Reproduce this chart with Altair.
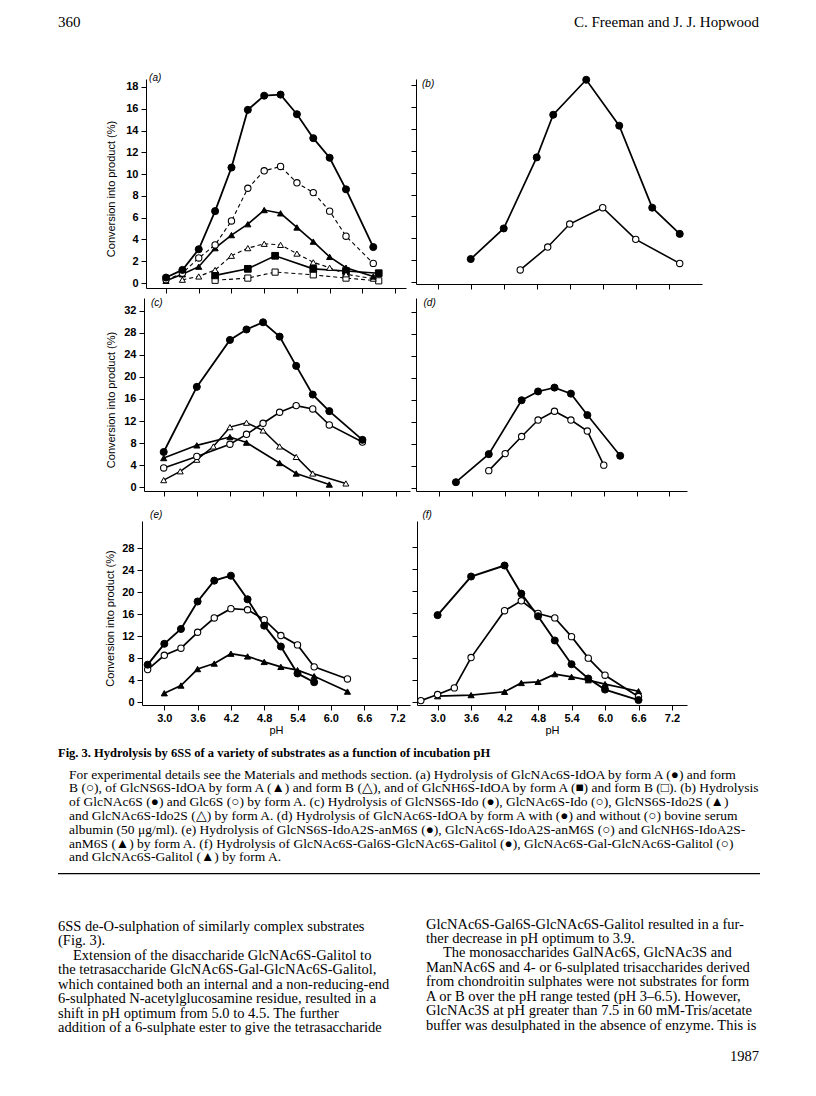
import altair as alt
import pandas as pd

SANS = "Liberation Sans"
SERIF = "Liberation Serif"
XT = [3.0, 3.6, 4.2, 4.8, 5.4, 6.0, 6.6, 7.2]
YTITLE = "Conversion into product (%)"

# ---------------- data ----------------
# (a) GlcNAc6S-IdOA / GlcNS6S-IdOA / GlcNH6S-IdOA, forms A and B
a_ph = [3.0, 3.3, 3.6, 3.9, 4.2, 4.5, 4.8, 5.1, 5.4, 5.7, 6.0, 6.3, 6.8]
a_glcnac_A = [0.5, 1.2, 3.1, 6.6, 10.6, 15.9, 17.2, 17.3, 15.5, 13.3, 11.5, 8.6, 3.3]
a_glcnac_B = [0.3, 0.9, 2.3, 3.5, 5.7, 8.7, 10.3, 10.7, 9.2, 8.3, 6.6, 4.3, 1.8]
a_glcns_A = [0.2, 0.8, 1.5, 3.2, 4.4, 5.4, 6.7, 6.4, 5.1, 3.8, 2.4, 1.4, 0.6]
a_glcns_B_ph = [3.3, 3.6, 3.9, 4.2, 4.5, 4.8, 5.1, 5.4, 5.7, 6.0, 6.3, 6.8]
a_glcns_B = [0.3, 0.6, 1.2, 2.5, 3.2, 3.6, 3.5, 2.7, 1.9, 1.4, 0.8, 0.4]
a_glcnh_ph = [3.9, 4.5, 5.0, 5.7, 6.3, 6.9]
a_glcnh_A = [0.7, 1.3, 2.5, 1.3, 1.1, 0.9]
a_glcnh_B = [0.25, 0.45, 1.0, 0.75, 0.45, 0.2]

# (b) GlcNAc6S and Glc6S
b_glcnac_ph = [3.6, 4.2, 4.8, 5.1, 5.7, 6.3, 6.9, 7.4]
b_glcnac = [2.1, 4.9, 11.4, 15.3, 18.5, 14.3, 6.8, 4.4]
b_glc_ph = [4.5, 5.0, 5.4, 6.0, 6.6, 7.4]
b_glc = [1.1, 3.2, 5.3, 6.8, 3.9, 1.7]

# (c) GlcNS6S-Ido, GlcNAc6S-Ido, GlcNS6S-Ido2S, GlcNAc6S-Ido2S
c_ph = [3.0, 3.6, 4.2, 4.5, 4.8, 5.1, 5.4, 5.7, 6.0, 6.6]
c_glcns_ido = [6.4, 18.2, 26.7, 28.6, 29.9, 27.3, 22.0, 16.8, 13.8, 8.6]
c_glcnac_ido = [3.5, 5.6, 7.8, 9.6, 11.6, 13.6, 14.8, 14.2, 11.3, 8.2]
c_glcns_ido2s_ph = [3.0, 3.6, 4.2, 4.5, 5.1, 5.4, 6.0]
c_glcns_ido2s = [5.3, 7.6, 9.1, 8.1, 4.4, 2.5, 0.5]
c_glcnac_ido2s_ph = [3.0, 3.3, 3.6, 3.9, 4.2, 4.5, 4.8, 5.1, 5.4, 5.7, 6.3]
c_glcnac_ido2s = [1.3, 2.9, 5.0, 7.4, 10.9, 11.7, 10.3, 7.4, 5.5, 2.5, 0.7]

# (d) GlcNAc6S-IdOA with / without bovine serum albumin
d_with_ph = [3.3, 3.9, 4.5, 4.8, 5.1, 5.4, 5.7, 6.3]
d_with = [1.0, 6.1, 15.9, 17.5, 18.2, 17.1, 13.2, 5.8]
d_without_ph = [3.9, 4.2, 4.5, 4.8, 5.1, 5.4, 5.7, 6.0]
d_without = [3.1, 6.2, 9.3, 12.3, 13.9, 12.3, 10.3, 4.1]

# (e) GlcNS6S-, GlcNAc6S-, GlcNH6S-IdoA2S-anM6S
e_ns_ph = [2.7, 3.0, 3.3, 3.6, 3.9, 4.2, 4.5, 4.8, 5.1, 5.4, 5.7]
e_ns = [6.8, 10.6, 13.3, 18.3, 22.1, 23.0, 18.7, 13.9, 10.1, 5.2, 3.6]
e_ac_ph = [2.7, 3.0, 3.3, 3.6, 3.9, 4.2, 4.5, 4.8, 5.1, 5.4, 5.7, 6.3]
e_ac = [5.9, 8.5, 9.8, 12.7, 15.3, 17.0, 16.8, 15.0, 12.1, 10.4, 6.4, 4.2]
e_nh_ph = [3.0, 3.3, 3.6, 3.9, 4.2, 4.5, 4.8, 5.1, 5.4, 5.7, 6.3]
e_nh = [1.6, 3.0, 6.0, 7.0, 8.8, 8.3, 7.3, 6.4, 5.8, 4.7, 1.9]

# (f) GlcNAc6S-Gal6S-GlcNAc6S-Galitol, GlcNAc6S-Gal-GlcNAc6S-Galitol, GlcNAc6S-Galitol
f_tetra6s_ph = [3.0, 3.6, 4.2, 4.5, 4.8, 5.1, 5.4, 5.7, 6.0, 6.6]
f_tetra6s = [15.7, 22.7, 24.7, 19.6, 15.5, 11.1, 6.8, 4.2, 2.2, 0.3]
f_tetra_ph = [2.7, 3.0, 3.3, 3.6, 4.2, 4.5, 4.8, 5.1, 5.4, 5.7, 6.0, 6.6]
f_tetra = [0.2, 1.3, 2.5, 8.0, 16.5, 18.3, 16.0, 15.2, 11.8, 7.9, 4.8, 0.9]
f_di_ph = [3.0, 3.6, 4.2, 4.5, 4.8, 5.1, 5.4, 5.7, 6.0, 6.6]
f_di = [1.0, 1.2, 1.8, 3.4, 3.6, 5.0, 4.5, 3.9, 3.2, 1.9]

# ---------------- text of the page ----------------
header_left = "360"
header_right = "C. Freeman and J. J. Hopwood"
cap_title = "Fig. 3. Hydrolysis by 6SS of a variety of substrates as a function of incubation pH"
cap_lines = [
    "For experimental details see the Materials and methods section. (a) Hydrolysis of GlcNAc6S-IdOA by form A (●) and form",
    "B (○), of GlcNS6S-IdOA by form A (▲) and form B (△), and of GlcNH6S-IdOA by form A (■) and form B (□). (b) Hydrolysis",
    "of GlcNAc6S (●) and Glc6S (○) by form A. (c) Hydrolysis of GlcNS6S-Ido (●), GlcNAc6S-Ido (○), GlcNS6S-Ido2S (▲)",
    "and GlcNAc6S-Ido2S (△) by form A. (d) Hydrolysis of GlcNAc6S-IdOA by form A with (●) and without (○) bovine serum",
    "albumin (50 μg/ml). (e) Hydrolysis of GlcNS6S-IdoA2S-anM6S (●), GlcNAc6S-IdoA2S-anM6S (○) and GlcNH6S-IdoA2S-",
    "anM6S (▲) by form A. (f) Hydrolysis of GlcNAc6S-Gal6S-GlcNAc6S-Galitol (●), GlcNAc6S-Gal-GlcNAc6S-Galitol (○)",
    "and GlcNAc6S-Galitol (▲) by form A.",
]
body_left = [
    "6SS de-O-sulphation of similarly complex substrates",
    "(Fig. 3).",
    "Extension of the disaccharide GlcNAc6S-Galitol to",
    "the tetrasaccharide GlcNAc6S-Gal-GlcNAc6S-Galitol,",
    "which contained both an internal and a non-reducing-end",
    "6-sulphated N-acetylglucosamine residue, resulted in a",
    "shift in pH optimum from 5.0 to 4.5. The further",
    "addition of a 6-sulphate ester to give the tetrasaccharide",
]
body_left_indent = [0, 0, 15, 0, 0, 0, 0, 0]
body_right = [
    "GlcNAc6S-Gal6S-GlcNAc6S-Galitol resulted in a fur-",
    "ther decrease in pH optimum to 3.9.",
    "The monosaccharides GalNAc6S, GlcNAc3S and",
    "ManNAc6S and 4- or 6-sulplated trisaccharides derived",
    "from chondroitin sulphates were not substrates for form",
    "A or B over the pH range tested (pH 3–6.5). However,",
    "GlcNAc3S at pH greater than 7.5 in 60 mM-Tris/acetate",
    "buffer was desulphated in the absence of enzyme. This is",
]
body_right_indent = [0, 0, 17, 0, 0, 0, 0, 0]
footer = "1987"

# ---------------- styles ----------------
STY = {
    "fc": dict(shape="circle", fill="black", size=50, sw=1.0),
    "oc": dict(shape="circle", fill="white", size=40, sw=1.1),
    "ft": dict(shape="triangle-up", fill="black", size=38, sw=1.0),
    "ot": dict(shape="triangle-up", fill="white", size=36, sw=1.0),
    "fs": dict(shape="square", fill="black", size=45, sw=1.0),
    "os": dict(shape="square", fill="white", size=38, sw=1.0),
}
DASH = [4, 3]


def panel(series, xd, yd, w, h, yt, left, xlabels, lab, titlex=0):
    xax = alt.Axis(values=XT, format=".1f", labels=xlabels, ticks=True, tickSize=5,
                   tickColor="black", tickWidth=1, domainColor="black", domainWidth=1,
                   grid=False, labelFont=SANS, labelFontSize=11, labelFontWeight="bold",
                   labelColor="black", labelPadding=2, labelFlush=False,
                   titleFont=SANS, titleFontSize=11, titleFontWeight="normal",
                   titleColor="black", titlePadding=1.5)
    ykw = dict(values=yt, labels=left, ticks=True, tickSize=5, tickColor="black",
               tickWidth=1, domainColor="black", domainWidth=1, grid=False,
               labelFont=SANS, labelFontSize=11, labelFontWeight="bold",
               labelColor="black", labelPadding=3)
    if left:
        ykw.update(titleFont=SANS, titleFontSize=11, titleFontWeight="normal",
                   titleColor="black", titleX=titlex, titleY=h / 2 + 5,
                   titleAngle=270, titleBaseline="middle", titleAlign="center")
    yax = alt.Axis(**ykw)
    X = alt.X("pH:Q", scale=alt.Scale(domain=xd, nice=False, zero=False), axis=xax,
              title="pH" if xlabels else None)
    Y = alt.Y("value:Q", scale=alt.Scale(domain=yd, nice=False, zero=False), axis=yax,
              title=YTITLE if left else None)
    lines, points = [], []
    for ph, vals, st, dashed, lw in series:
        df = pd.DataFrame({"pH": ph, "value": vals})
        lkw = dict(color="black", strokeWidth=lw)
        if dashed:
            lkw["strokeDash"] = DASH
        lines.append(alt.Chart(df).mark_line(**lkw).encode(x=X, y=Y))
        s = STY[st]
        points.append(alt.Chart(df).mark_point(shape=s["shape"], filled=True, fill=s["fill"],
                                                stroke="black", strokeWidth=s["sw"],
                                                size=s["size"], opacity=1).encode(x=X, y=Y))
    ldf = pd.DataFrame({"pH": [lab[1]], "value": [lab[2]], "t": [lab[0]]})
    label = alt.Chart(ldf).mark_text(align="left", baseline="middle", font=SANS,
                                     fontStyle="italic", fontSize=10, color="black").encode(
        x=X, y=Y, text="t:N")
    return alt.layer(*lines, *points, label).properties(width=w, height=h)


def spacer(w, h):
    return alt.Chart(pd.DataFrame({"v": []})).mark_point(opacity=0).properties(width=w, height=h)


pa = panel([
    (a_glcnh_ph, a_glcnh_B, "os", True, 1.1),
    (a_glcnh_ph, a_glcnh_A, "fs", False, 1.6),
    (a_glcns_B_ph, a_glcns_B, "ot", True, 1.1),
    (a_ph, a_glcns_A, "ft", False, 1.6),
    (a_ph, a_glcnac_B, "oc", True, 1.1),
    (a_ph, a_glcnac_A, "fc", False, 1.8),
], [2.633, 7.40], [-0.459, 18.733], 260, 209, list(range(0, 19, 2)), True, False,
    ("(a)", 2.69, 18.82), titlex=-35)

pb = panel([
    (b_glc_ph, b_glc, "oc", False, 1.6),
    (b_glcnac_ph, b_glcnac, "fc", False, 1.7),
], [2.605, 7.805], [-0.183, 18.57], 286, 205, list(range(0, 19, 2)), False, False,
    ("(b)", 2.714, 18.11))

pc = panel([
    (c_glcnac_ido2s_ph, c_glcnac_ido2s, "ot", False, 1.5),
    (c_glcns_ido2s_ph, c_glcns_ido2s, "ft", False, 1.6),
    (c_ph, c_glcnac_ido, "oc", False, 1.6),
    (c_ph, c_glcns_ido, "fc", False, 1.8),
], [2.643, 7.462], [-0.670, 34.30], 266, 193, list(range(0, 33, 4)), True, False,
    ("(c)", 2.77, 33.4), titlex=-33)

pd_ = panel([
    (d_without_ph, d_without, "oc", False, 1.6),
    (d_with_ph, d_with, "fc", False, 1.7),
], [2.571, 7.520], [-0.60, 34.49], 271, 193, list(range(0, 33, 4)), False, False,
    ("(d)", 2.708, 33.6))

pe = panel([
    (e_nh_ph, e_nh, "ft", False, 1.7),
    (e_ac_ph, e_ac, "oc", False, 1.7),
    (e_ns_ph, e_ns, "fc", False, 1.9),
], [2.598, 7.427], [-0.545, 32.96], 268, 184, list(range(0, 29, 4)), True, True,
    ("(e)", 2.744, 34.05), titlex=-32)

pf = panel([
    (f_di_ph, f_di, "ft", False, 1.7),
    (f_tetra_ph, f_tetra, "oc", False, 1.7),
    (f_tetra6s_ph, f_tetra6s, "fc", False, 1.9),
], [2.631, 7.469], [-0.599, 32.77], 270, 184, list(range(0, 29, 4)), False, True,
    ("(f)", 2.728, 33.9))

row1 = alt.hconcat(spacer(42.5, 1), pa, pb, spacing=4)
row2 = alt.hconcat(spacer(46.5, 1), pc, pd_, spacing=0)
row3 = alt.hconcat(spacer(44.5, 1), pe, pf, spacing=1)

TW = 702


def text_chart(layers_spec, rule_rows, h, dom):
    xs = alt.Scale(domain=[0, TW], nice=False, zero=False)
    ys = alt.Scale(domain=dom, reverse=True, nice=False, zero=False)
    layers = []
    for df, align, size, weight in layers_spec:
        layers.append(alt.Chart(df).mark_text(align=align, baseline="middle", font=SERIF,
                                              fontSize=size, fontWeight=weight, color="black").encode(
            x=alt.X("x:Q", scale=xs, axis=None),
            y=alt.Y("row:Q", scale=ys, axis=None),
            text="text:N"))
    for r in rule_rows:
        rdf = pd.DataFrame({"x0": [0], "x1": [TW], "row": [r]})
        layers.append(alt.Chart(rdf).mark_rule(color="black", strokeWidth=1.2).encode(
            x=alt.X("x0:Q", scale=xs, axis=None), x2="x1:Q",
            y=alt.Y("row:Q", scale=ys, axis=None)))
    return alt.layer(*layers).properties(width=TW, height=h)


HEAD_H = 61
header = text_chart([
    (pd.DataFrame({"x": [0], "row": [0], "text": [header_left]}), "left", 15, "normal"),
    (pd.DataFrame({"x": [TW - 1], "row": [0], "text": [header_right]}), "right", 15, "normal"),
], [], HEAD_H, [-1, HEAD_H / 10 - 1])

CAP_H = 143
cap_top = -2.784
caption = text_chart([
    (pd.DataFrame({"x": [0], "row": [-1.59], "text": [cap_title]}), "left", 12.5, "bold"),
    (pd.DataFrame({"x": [11] * len(cap_lines), "row": list(range(len(cap_lines))),
                   "text": cap_lines}), "left", 13.5, "normal"),
], [7.16], CAP_H, [cap_top, cap_top + CAP_H / 13.83])

body = text_chart([
    (pd.DataFrame({"x": body_left_indent, "row": list(range(len(body_left))),
                   "text": body_left}), "left", 14.5, "normal"),
    (pd.DataFrame({"x": [368 + i for i in body_right_indent],
                   "row": [r - 0.17 for r in range(len(body_right))],
                   "text": body_right}), "left", 14.5, "normal"),
    (pd.DataFrame({"x": [TW - 1], "row": [9.0], "text": [footer]}), "right", 14.5, "normal"),
], [], 192, [-3.326, 9.979])

chart = alt.vconcat(header, row1, spacer(1, 2.5), row2, spacer(1, 11.5), row3, caption, body,
                    spacing=0).properties(
    padding={"left": 49, "top": 4, "right": 5, "bottom": 5},
    background="white",
).configure_view(strokeWidth=0)

chart.save("out.html", embed_options={"renderer": "svg", "actions": False})
